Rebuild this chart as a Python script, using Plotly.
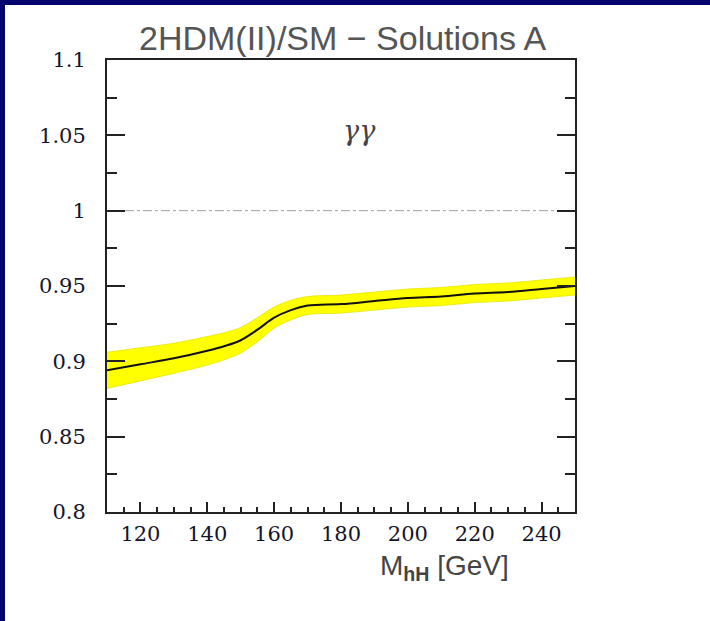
import plotly.graph_objects as go

# Ratio of the diphoton rate, 2HDM type II over SM, versus the Higgs mass
mass = [110, 120, 130, 140, 145, 150, 155, 160, 165, 170, 180, 190, 200, 210, 220, 230, 240, 250]
ratio = [0.894, 0.898, 0.902, 0.907, 0.910, 0.914, 0.921, 0.929, 0.934, 0.937,
         0.938, 0.940, 0.942, 0.943, 0.945, 0.946, 0.948, 0.950]
half_width = [0.012, 0.011, 0.010, 0.0095, 0.009, 0.0085, 0.008, 0.007, 0.0065, 0.006,
              0.006, 0.006, 0.006, 0.006, 0.006, 0.006, 0.006, 0.006]

sm_level = 1.0
x_range = [110, 250]
y_range = [0.8, 1.1]
x_tickvals = [120, 140, 160, 180, 200, 220, 240]
x_ticktext = ["120", "140", "160", "180", "200", "220", "240"]
y_tickvals = [0.8, 0.85, 0.9, 0.95, 1.0, 1.05, 1.1]
y_ticktext = ["0.8", "0.85", "0.9", "0.95", "1", "1.05", "1.1"]

upper = [c + h for c, h in zip(ratio, half_width)]
lower = [c - h for c, h in zip(ratio, half_width)]

fig = go.Figure()

# yellow uncertainty band
fig.add_trace(go.Scatter(x=mass, y=upper, mode="lines", line=dict(color="#e6e600", width=0.8, shape="spline"),
                         hoverinfo="skip", showlegend=False))
fig.add_trace(go.Scatter(x=mass, y=lower, mode="lines", line=dict(color="#e6e600", width=0.8, shape="spline"),
                         fill="tonexty", fillcolor="#ffff00", hoverinfo="skip", showlegend=False))

# SM reference line
fig.add_trace(go.Scatter(x=x_range, y=[sm_level, sm_level], mode="lines",
                         line=dict(color="#a0a0a0", width=1, dash="dashdot"), showlegend=False))

# central prediction
fig.add_trace(go.Scatter(x=mass, y=ratio, mode="lines", line=dict(color="#111111", width=2, shape="spline"),
                         showlegend=False))

W, H = 710, 621
L, R, T, B = 107, 135, 60, 109
pw, ph = W - L - R, H - T - B


def px_x(p):
    return (p - L) / pw


def px_y(p):
    return (H - B - p) / ph


navy = "#04046c"
shapes = [
    dict(type="rect", xref="paper", yref="paper", x0=px_x(0), x1=px_x(W), y0=px_y(5), y1=px_y(0),
         fillcolor=navy, line=dict(width=0), layer="above"),
    dict(type="rect", xref="paper", yref="paper", x0=px_x(0), x1=px_x(5), y0=px_y(H), y1=px_y(0),
         fillcolor=navy, line=dict(width=0), layer="above"),
]

annotations = [
    dict(text="2HDM(II)/SM − Solutions A", xref="paper", yref="paper", x=px_x(343), y=px_y(38),
         showarrow=False, xanchor="center", yanchor="middle",
         font=dict(family="Liberation Sans", size=34, color="#555555")),
    dict(text="<i>γγ</i>", xref="paper", yref="paper", x=px_x(359), y=px_y(130),
         showarrow=False, xanchor="center", yanchor="middle",
         font=dict(family="DejaVu Serif", size=27, color="#444444")),
    dict(text="M<sub><b>hH</b></sub> [GeV]", xref="paper", yref="paper", x=px_x(444), y=px_y(567),
         showarrow=False, xanchor="center", yanchor="middle",
         font=dict(family="Liberation Sans", size=28, color="#444444")),
]

tick_font = dict(family="DejaVu Serif", size=21, color="#15152a")

fig.update_layout(
    width=W, height=H,
    margin=dict(l=L, r=R, t=T, b=B),
    paper_bgcolor="white", plot_bgcolor="white",
    shapes=shapes, annotations=annotations,
    xaxis=dict(range=x_range, showgrid=False, zeroline=False,
               showline=True, linecolor="#222222", linewidth=2, mirror=True,
               ticks="inside", ticklen=10, tickwidth=2, tickcolor="#222222",
               tickvals=x_tickvals, ticktext=x_ticktext, ticklabelstandoff=2,
               tickfont=tick_font,
               minor=dict(dtick=5, tick0=0, ticks="inside", ticklen=5, tickwidth=2, tickcolor="#222222")),
    yaxis=dict(range=y_range, showgrid=False, zeroline=False,
               showline=True, linecolor="#222222", linewidth=2, mirror="ticks",
               ticks="inside", ticklen=18, tickwidth=2, tickcolor="#222222",
               tickvals=y_tickvals, ticktext=y_ticktext, ticklabelstandoff=15,
               tickfont=tick_font,
               minor=dict(dtick=0.025, tick0=0, ticks="inside", ticklen=10, tickwidth=2, tickcolor="#222222")),
)

fig.write_html("out.html")
